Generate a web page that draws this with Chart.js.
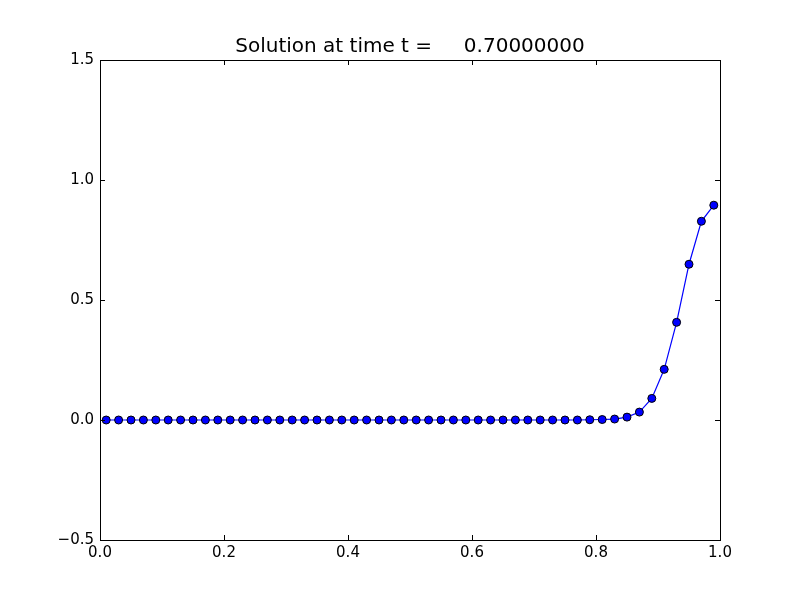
<!DOCTYPE html>
<html>
<head>
<meta charset="utf-8">
<script src="https://cdn.jsdelivr.net/npm/chart.js@4"></script>
<style>
  body { margin: 0; background: #fff; }
</style>
</head>
<body>
<canvas id="myChart" width="800" height="600"></canvas>
<script>
// grid points and solution values
const xValues = [0.01, 0.03, 0.05, 0.07, 0.09, 0.11, 0.13, 0.15, 0.17, 0.19,
                 0.21, 0.23, 0.25, 0.27, 0.29, 0.31, 0.33, 0.35, 0.37, 0.39,
                 0.41, 0.43, 0.45, 0.47, 0.49, 0.51, 0.53, 0.55, 0.57, 0.59,
                 0.61, 0.63, 0.65, 0.67, 0.69, 0.71, 0.73, 0.75, 0.77, 0.79,
                 0.81, 0.83, 0.85, 0.87, 0.89, 0.91, 0.93, 0.95, 0.97, 0.99];
const yValues = [0, 0, 0, 0, 0, 0, 0, 0, 0, 0,
                 0, 0, 0, 0, 0, 0, 0, 0, 0, 0,
                 0, 0, 0, 0, 0, 0, 0, 0, 0, 0,
                 0, 0, 0, 0, 0, 0, 0, 0, 0, 0.001,
                 0.002, 0.004, 0.012, 0.033, 0.090, 0.211, 0.407, 0.649, 0.828, 0.895];
const xTicks = [0.0, 0.2, 0.4, 0.6, 0.8, 1.0];
const yTicks = [-0.5, 0.0, 0.5, 1.0, 1.5];
const titleText = 'Solution at time t =     0.70000000';

const FONT = 'DejaVu Sans';

// frame box + inward ticks on all four sides, like matplotlib
const framePlugin = {
    id: 'frame',
    afterDraw(chart) {
        const ctx = chart.ctx;
        const a = chart.chartArea;
        const xs = chart.scales.x, ys = chart.scales.y;
        const len = 5;
        ctx.save();
        ctx.strokeStyle = '#000';
        ctx.lineWidth = 1;
        ctx.beginPath();
        xTicks.forEach(v => {
            const px = Math.round(xs.getPixelForValue(v)) + 0.5;
            ctx.moveTo(px, a.bottom); ctx.lineTo(px, a.bottom - len);
            ctx.moveTo(px, a.top); ctx.lineTo(px, a.top + len);
        });
        yTicks.forEach(v => {
            const py = Math.round(ys.getPixelForValue(v)) + 0.5;
            ctx.moveTo(a.left, py); ctx.lineTo(a.left + len, py);
            ctx.moveTo(a.right, py); ctx.lineTo(a.right - len, py);
        });
        ctx.stroke();
        ctx.strokeRect(Math.round(a.left) + 0.5, Math.round(a.top) + 0.5,
                       Math.round(a.right - a.left), Math.round(a.bottom - a.top));
        ctx.restore();
    }
};

const fmt = v => v.toFixed(1).replace('-', '\u2212');

const ctx = document.getElementById('myChart');
const chart = new Chart(ctx, {
    type: 'scatter',
    data: {
        datasets: [{
            data: xValues.map((x, i) => ({ x: x, y: yValues[i] })),
            showLine: true,
            borderColor: '#0000ff',
            borderWidth: 1.2,
            pointRadius: 4,
            pointHoverRadius: 4,
            pointBackgroundColor: '#0000ff',
            pointBorderColor: '#000',
            pointBorderWidth: 1,
            clip: false
        }]
    },
    options: {
        responsive: false,
        animation: false,
        events: [],
        // left padding 20 so the title centres over the plot area
        layout: { padding: { left: 20, right: 0, top: 0, bottom: 0 } },
        plugins: {
            legend: { display: false },
            tooltip: { enabled: false },
            title: {
                display: true,
                text: titleText,
                color: '#000',
                font: { family: FONT, size: 20, weight: 'normal' },
                padding: { top: 34.5, bottom: 1.5 }
            }
        },
        scales: {
            x: {
                type: 'linear',
                min: 0, max: 1,
                afterBuildTicks: s => { s.ticks = xTicks.map(v => ({ value: v })); },
                afterFit: s => { s.height = 60; },
                grid: { display: false, drawTicks: false },
                border: { display: false },
                ticks: {
                    color: '#000',
                    padding: 4,
                    maxRotation: 0,
                    font: { family: FONT, size: 15 },
                    callback: v => fmt(v)
                }
            },
            y: {
                type: 'linear',
                min: -0.5, max: 1.5,
                afterBuildTicks: s => { s.ticks = yTicks.map(v => ({ value: v })); },
                afterFit: s => { s.width = 80; },
                grid: { display: false, drawTicks: false },
                border: { display: false },
                ticks: {
                    color: '#000',
                    padding: 6,
                    font: { family: FONT, size: 15 },
                    callback: v => fmt(v)
                }
            },
            // empty right-hand axis that only reserves the right margin
            yRight: {
                type: 'linear',
                position: 'right',
                min: -0.5, max: 1.5,
                afterFit: s => { s.width = 80; },
                grid: { display: false, drawTicks: false },
                border: { display: false },
                ticks: { display: false }
            }
        }
    },
    plugins: [framePlugin]
});
</script>
</body>
</html>
